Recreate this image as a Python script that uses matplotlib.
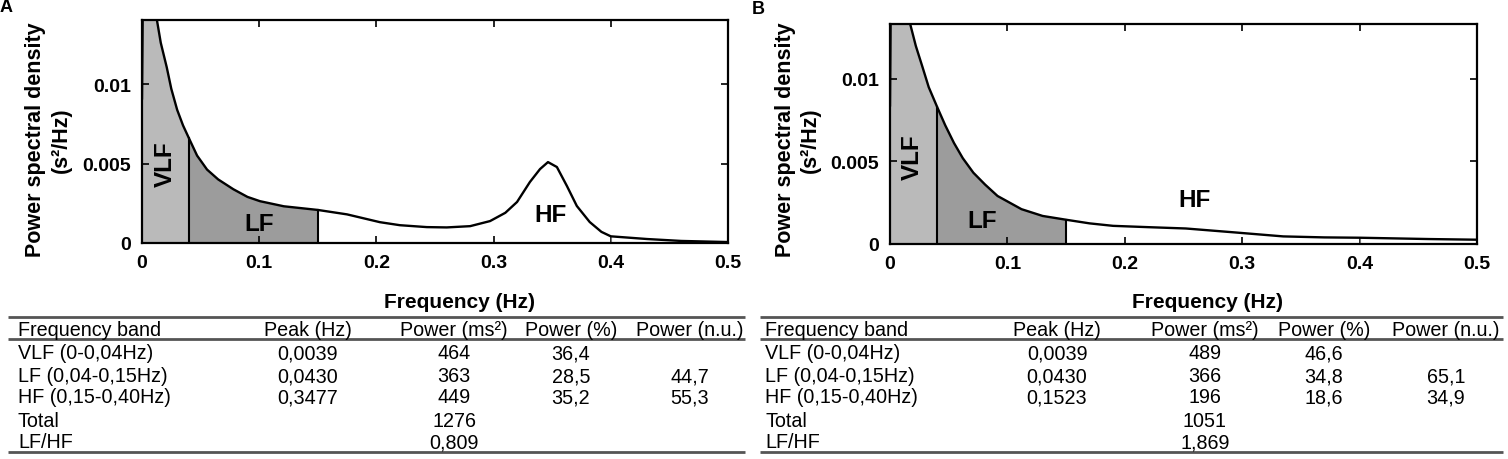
import matplotlib
matplotlib.use("Agg")
import matplotlib.pyplot as plt
import numpy as np

plt.rcParams['font.family'] = ['Liberation Sans', 'DejaVu Sans']

# spectrum A, Hz and s^2/Hz
freq_a = [0, 0.0008, 0.0039, 0.0128, 0.016, 0.0211, 0.025, 0.030, 0.035, 0.040, 0.047,
          0.0555, 0.065, 0.078, 0.09, 0.1007, 0.121, 0.15, 0.175, 0.203, 0.22, 0.243,
          0.26, 0.28, 0.297, 0.310, 0.320, 0.331, 0.3396, 0.3464, 0.354, 0.3626, 0.371,
          0.382, 0.392, 0.40, 0.431, 0.46, 0.5]
psd_a = [0.0091, 0.016, 0.020, 0.0140, 0.0126, 0.01106, 0.0097, 0.00838, 0.0074, 0.0066, 0.0055,
         0.00462, 0.0040, 0.00338, 0.0029, 0.00263, 0.00231, 0.00208, 0.0018, 0.00131, 0.00112, 0.00100,
         0.00098, 0.00106, 0.00138, 0.0019, 0.00258, 0.00384, 0.00465, 0.00509, 0.00478, 0.00358, 0.00233,
         0.00132, 0.0007, 0.00042, 0.00025, 0.00013, 0.00006]

# spectrum B
freq_b = [0, 0.0008, 0.0039, 0.0173, 0.022, 0.0276, 0.033, 0.040, 0.047, 0.0545, 0.062,
          0.071, 0.081, 0.0916, 0.112, 0.13, 0.15, 0.17, 0.19, 0.22, 0.252, 0.294,
          0.335, 0.37, 0.40, 0.459, 0.5]
psd_b = [0.0084, 0.016, 0.020, 0.0133, 0.0120, 0.01074, 0.0095, 0.00833, 0.0072, 0.00612, 0.0052,
         0.00432, 0.0036, 0.00291, 0.00211, 0.0017, 0.00147, 0.00125, 0.0011, 0.00102, 0.00094, 0.0007,
         0.00046, 0.0004, 0.00038, 0.0003, 0.00026]

# table data
col_headers = ['Frequency band', 'Peak (Hz)', 'Power (ms²)', 'Power (%)', 'Power (n.u.)']
bands = ['VLF (0-0,04Hz)', 'LF (0,04-0,15Hz)', 'HF (0,15-0,40Hz)', 'Total', 'LF/HF']
peak_a = ['0,0039', '0,0430', '0,3477', '', '']
power_a = ['464', '363', '449', '1276', '0,809']
pct_a = ['36,4', '28,5', '35,2', '', '']
nu_a = ['', '44,7', '55,3', '', '']
peak_b = ['0,0039', '0,0430', '0,1523', '', '']
power_b = ['489', '366', '196', '1051', '1,869']
pct_b = ['46,6', '34,8', '18,6', '', '']
nu_b = ['', '65,1', '34,9', '', '']

W, H = 1508, 460
fig = plt.figure(figsize=(W / 100, H / 100), dpi=100)


def draw_panel(rect, freq, psd, ymax, lbl_pos):
    ax = fig.add_axes(rect)
    f = np.array(freq)
    p = np.array(psd)
    vlf = f <= 0.04
    lf = (f >= 0.04) & (f <= 0.15)
    ax.fill_between(f[vlf], 0, p[vlf], color='#bababa', lw=0)
    ax.fill_between(f[lf], 0, p[lf], color='#9c9c9c', lw=0)
    for edge in (0.04, 0.15):
        i = list(freq).index(edge)
        ax.plot([edge, edge], [0, psd[i]], color='black', lw=1.5)
    i = list(freq).index(0.40)
    ax.plot([0.4, 0.4], [0, psd[i]], color='#777777', lw=0.8)
    ax.plot(f, p, color='black', lw=1.7, solid_joinstyle='round')
    ax.set_xlim(0, 0.5)
    ax.set_ylim(0, ymax)
    ax.set_xticks([0, 0.1, 0.2, 0.3, 0.4, 0.5])
    ax.set_xticklabels(['0', '0.1', '0.2', '0.3', '0.4', '0.5'])
    ax.set_yticks([0, 0.005, 0.01])
    ax.set_yticklabels(['0', '0.005', '0.01'])
    ax.tick_params(direction='in', top=True, right=True, length=5, width=1.2,
                   labelsize=14, pad=8)
    for t in ax.get_xticklabels() + ax.get_yticklabels():
        t.set_fontweight('bold')
    for s in ax.spines.values():
        s.set_linewidth(1.6)
    (vx, vy), (lx, ly), (hx, hy) = lbl_pos
    ax.text(vx, vy, 'VLF', rotation=90, ha='center', va='center', fontsize=17.5, fontweight='bold')
    ax.text(lx, ly, 'LF', ha='center', va='center', fontsize=17.5, fontweight='bold')
    ax.text(hx, hy, 'HF', ha='center', va='center', fontsize=17.5, fontweight='bold')
    return ax


draw_panel([142 / W, 1 - 244 / H, 586 / W, 223 / H], freq_a, psd_a, 0.01403,
           [(0.0197, 0.005), (0.1, 0.00125), (0.349, 0.0018)])
draw_panel([890 / W, 1 - 245 / H, 587 / W, 220 / H], freq_b, psd_b, 0.01333,
           [(0.0194, 0.0053), (0.0784, 0.0014), (0.259, 0.0027)])

# overlay in pixel coordinates for labels and tables
ov = fig.add_axes([0, 0, 1, 1])
ov.set_xlim(0, W)
ov.set_ylim(H, 0)
ov.axis('off')
ov.patch.set_alpha(0)

ov.text(0, 8, 'A', ha='left', va='center', fontsize=13, fontweight='bold')
ov.text(758, 9.5, 'B', ha='center', va='center', fontsize=13, fontweight='bold')

for cx in (48.5, 797.5):
    ov.text(cx, 140, 'Power spectral density\n(s²/Hz)', rotation=90, ha='center', va='center',
            fontsize=15.5, fontweight='bold', linespacing=1.25, multialignment='center')

ov.text(459, 303, 'Frequency (Hz)', ha='center', va='center', fontsize=15, fontweight='bold')
ov.text(1207, 303, 'Frequency (Hz)', ha='center', va='center', fontsize=15, fontweight='bold')

row_y = [354, 377, 398, 422, 443]
tfs = 14.2


def draw_table(x0, x1, cols_x, peak, power, pct, nu):
    for y in (318, 340, 453):
        ov.plot([x0, x1], [y, y], color='#555555', lw=2.0, solid_capstyle='butt')
    ov.text(cols_x[0], 331, col_headers[0], ha='left', va='center', fontsize=tfs)
    for cx, h in zip(cols_x[1:], col_headers[1:]):
        ov.text(cx, 331, h, ha='center', va='center', fontsize=tfs)
    for k, y in enumerate(row_y):
        ov.text(cols_x[0], y, bands[k], ha='left', va='center', fontsize=tfs)
        for cx, col in zip(cols_x[1:], (peak, power, pct, nu)):
            if col[k]:
                ov.text(cx, y, col[k], ha='center', va='center', fontsize=tfs)


draw_table(8, 745, [18, 308, 454, 571, 690], peak_a, power_a, pct_a, nu_a)
draw_table(760, 1503, [765, 1057, 1205, 1324, 1446], peak_b, power_b, pct_b, nu_b)

fig.savefig('out.png', dpi=100)
